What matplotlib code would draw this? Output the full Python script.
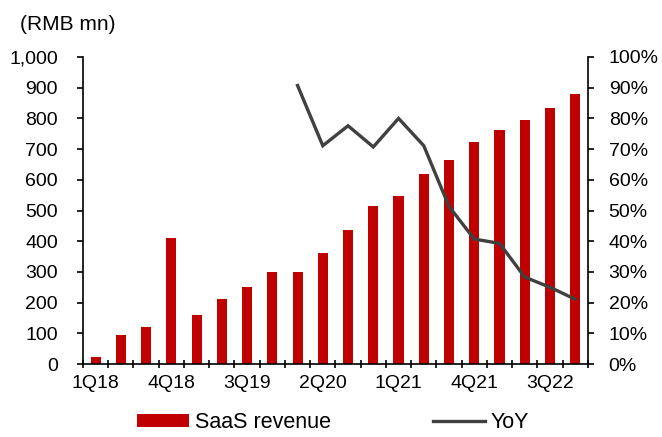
import matplotlib
matplotlib.use('Agg')
import matplotlib.pyplot as plt
from matplotlib.ticker import FuncFormatter, PercentFormatter

quarters = ['1Q18', '2Q18', '3Q18', '4Q18', '1Q19', '2Q19', '3Q19', '4Q19',
            '1Q20', '2Q20', '3Q20', '4Q20', '1Q21', '2Q21', '3Q21', '4Q21',
            '1Q22', '2Q22', '3Q22', '4Q22']
saas_revenue = [22, 94, 120, 411, 159, 211, 250, 301, 301, 360,
                437, 515, 548, 620, 665, 723, 763, 795, 834, 879]
# YoY starts at 1Q20
yoy_quarters = quarters[8:]
yoy = [0.907, 0.711, 0.776, 0.707, 0.800, 0.711, 0.513, 0.407,
       0.393, 0.283, 0.250, 0.211]

plt.rcParams['font.family'] = ['Liberation Sans', 'DejaVu Sans']
plt.rcParams['font.size'] = 14

fig = plt.figure(figsize=(6.62, 4.37), dpi=100)
ax = fig.add_axes([0.1254, 0.167, 0.7626, 0.7026])
ax2 = ax.twinx()

x = list(range(len(quarters)))
ax.bar(x, saas_revenue, width=0.4, color='#C00000', label='SaaS revenue', zorder=2)
yoy_x = [quarters.index(q) for q in yoy_quarters]
ax2.plot(yoy_x, yoy, color='#404040', linewidth=2.4, label='YoY',
         solid_joinstyle='miter')

ax.set_xlim(-0.5, len(quarters) - 0.5)
ax.set_ylim(0, 1000)
ax.set_yticks(range(0, 1001, 100))
ax.yaxis.set_major_formatter(FuncFormatter(lambda v, p: f'{int(v):,}'))
ax2.set_ylim(0, 1)
ax2.set_yticks([i / 10 for i in range(11)])
ax2.yaxis.set_major_formatter(PercentFormatter(1.0, decimals=0))

# category boundaries as ticks, labels every third quarter
ax.set_xticks([i - 0.5 for i in range(len(quarters) + 1)], minor=True)
ax.set_xticks(x[::3])
ax.set_xticklabels(quarters[::3])
ax.tick_params(axis='x', which='major', length=0, pad=8)
ax.tick_params(axis='x', which='minor', direction='inout', length=6, width=1.2)
ax.tick_params(axis='y', direction='out', length=4, width=1.2, pad=14)
ax2.tick_params(axis='y', direction='out', length=4, width=1.2, pad=11)

for a in (ax, ax2):
    a.spines['top'].set_visible(False)
    for s in ('left', 'right', 'bottom'):
        a.spines[s].set_linewidth(1.2)
ax.spines['right'].set_visible(False)
ax2.spines['left'].set_visible(False)
ax2.spines['bottom'].set_visible(False)

fig.text(0.03, 0.945, '(RMB mn)', ha='left', va='center', fontsize=15)

h1, l1 = ax.get_legend_handles_labels()
h2, l2 = ax2.get_legend_handles_labels()
fig.legend(h1 + h2, l1 + l2, loc='center', bbox_to_anchor=(0.503, 0.034),
           ncol=2, frameon=False, fontsize=15.5, handlelength=2.42,
           handleheight=0.55, handletextpad=0.28, columnspacing=4.75)

fig.savefig('out.png', dpi=100)
